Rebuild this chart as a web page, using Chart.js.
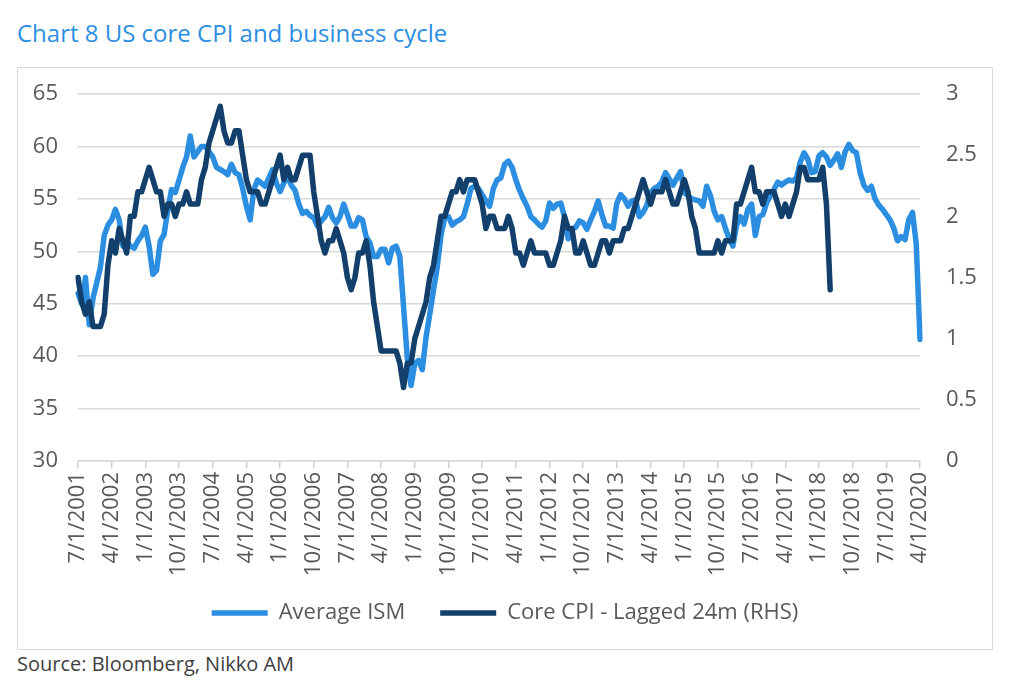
<!DOCTYPE html>
<html>
<head>
<meta charset="utf-8">
<title>Chart 8 US core CPI and business cycle</title>
<script src="https://cdn.jsdelivr.net/npm/chart.js@4.4.1/dist/chart.umd.min.js"></script>
<style>
  html, body { margin: 0; padding: 0; background: #fff; }
  body { width: 1024px; height: 693px; position: relative; overflow: hidden; font-family: 'Open Sans', sans-serif; }
  #title { position: absolute; left: 17px; top: 18px; font-size: 24px; line-height: 30px; color: #2b8ee0; white-space: nowrap; }
  #frame { position: absolute; left: 17px; top: 67px; width: 976px; height: 583px; border: 1px solid #d9d9d9; box-sizing: border-box; }
  #source { position: absolute; left: 17px; top: 652px; font-size: 20px; line-height: 24px; color: #404040; white-space: nowrap; }
</style>
</head>
<body>
<div id="title">Chart 8 US core CPI and business cycle</div>
<div id="frame"><canvas id="chart"></canvas></div>
<div id="source">Source: Bloomberg, Nikko AM</div>
<script>
// monthly axis, first point 7/1/2001, last 4/1/2020
const START_YEAR = 2001;
const START_MONTH = 7;
const MONTH_COUNT = 226;
const TICK_EVERY = 9;

// Average ISM (left axis), Jul 2001 .. Apr 2020
const ismValues = [
  46, 45, 47.5, 43, 45.5, 47,
  48.5, 51.5, 52.5, 53, 54, 53, 50.5, 51, 50.5, 50.3, 51, 51.5,
  52.3, 50.5, 47.8, 48.2, 51, 51.6, 54, 55.9, 55.6, 56.8, 58, 59,
  61, 59, 59.5, 60, 60, 59.5, 59, 58, 57.8, 57.6, 57.3, 58.3,
  57.5, 57.3, 56, 54.3, 53, 55.9, 56.8, 56.5, 56.2, 57, 57.8, 56.5,
  55.7, 56.5, 57.2, 56.3, 55.8, 54.5, 53.6, 53.8, 53.4, 53.2, 52.4, 52.9,
  53.3, 54.2, 53.2, 52.7, 53.3, 54.5, 53.5, 52.4, 52.4, 53.2, 53, 51.4,
  50.8, 49.5, 49.5, 50.2, 50.2, 48.9, 50.3, 50.5, 49.5, 44.7, 39.8, 37.2,
  39.3, 39.6, 38.7, 41.8, 44, 46.3, 48.5, 51.5, 53.2, 53.3, 52.5, 52.8,
  53, 53.3, 54.5, 56, 56.2, 56, 55.4, 54.8, 54.3, 56, 56.8, 57,
  58.3, 58.6, 58, 56.8, 55.8, 55, 54.3, 53.3, 53, 52.6, 52.3, 52.9,
  54.6, 54.1, 54.5, 54.6, 53.3, 51.2, 52.1, 52.3, 52.9, 52.7, 52.1, 53,
  53.8, 54.8, 53.5, 52.4, 52.4, 52.2, 54.6, 55.4, 55, 54.3, 54.8, 54.9,
  53.3, 53.7, 54.4, 55.6, 56, 56.2, 56.6, 57.5, 56.9, 56.3, 57, 57.6,
  55.6, 55.3, 55, 54.9, 54.8, 54.3, 56.2, 55.3, 53.8, 53, 53.3, 52.2,
  51.2, 50.5, 52.5, 53.3, 52.6, 54, 54.5, 51.5, 53.3, 53.5, 54.6, 55.3,
  55.9, 56.6, 56.3, 56.6, 56.8, 56.7, 57, 58.5, 59.4, 58.8, 57.5, 57.6,
  59.1, 59.4, 59, 58.2, 58.7, 59.3, 58, 59.5, 60.2, 59.6, 59.4, 57.5,
  56.3, 55.8, 56.2, 55, 54.4, 54, 53.5, 53, 52.2, 51, 51.4, 51.1,
  53, 53.7, 50.7, 41.6
];

// Core CPI y/y (right axis), plotted 24 months early: Jul 2001 .. Apr 2018
const cpiValues = [
  1.5, 1.3, 1.2, 1.3, 1.1, 1.1,
  1.1, 1.2, 1.6, 1.8, 1.7, 1.9, 1.8, 1.7, 2.0, 2.0, 2.2, 2.2,
  2.3, 2.4, 2.3, 2.2, 2.2, 2.0, 2.1, 2.1, 2.0, 2.1, 2.1, 2.2,
  2.1, 2.1, 2.1, 2.3, 2.4, 2.6, 2.7, 2.8, 2.9, 2.7, 2.6, 2.6,
  2.7, 2.7, 2.5, 2.3, 2.2, 2.2, 2.2, 2.1, 2.1, 2.2, 2.3, 2.4,
  2.5, 2.3, 2.4, 2.3, 2.3, 2.4, 2.5, 2.5, 2.5, 2.2, 2.0, 1.8,
  1.7, 1.8, 1.8, 1.9, 1.8, 1.7, 1.5, 1.4, 1.5, 1.7, 1.7, 1.8,
  1.6, 1.3, 1.1, 0.9, 0.9, 0.9, 0.9, 0.9, 0.8, 0.6, 0.8, 0.8,
  1.0, 1.1, 1.2, 1.3, 1.5, 1.6, 1.8, 2.0, 2.0, 2.1, 2.2, 2.2,
  2.3, 2.2, 2.3, 2.3, 2.3, 2.2, 2.1, 1.9, 2.0, 2.0, 1.9, 1.9,
  1.9, 2.0, 1.9, 1.7, 1.7, 1.6, 1.7, 1.8, 1.7, 1.7, 1.7, 1.7,
  1.6, 1.6, 1.7, 1.8, 2.0, 1.9, 1.9, 1.7, 1.7, 1.8, 1.7, 1.6,
  1.6, 1.7, 1.8, 1.8, 1.7, 1.8, 1.8, 1.8, 1.9, 1.9, 2.0, 2.1,
  2.2, 2.3, 2.2, 2.1, 2.2, 2.2, 2.2, 2.3, 2.2, 2.1, 2.1, 2.2,
  2.3, 2.2, 2.0, 1.9, 1.7, 1.7, 1.7, 1.7, 1.7, 1.8, 1.7, 1.8,
  1.8, 1.8, 2.1, 2.1, 2.2, 2.3, 2.4, 2.2, 2.2, 2.1, 2.2, 2.2,
  2.2, 2.1, 2.0, 2.1, 2.0, 2.1, 2.2, 2.4, 2.4, 2.3, 2.3, 2.3,
  2.3, 2.4, 2.1, 1.4
];

const months = [];
for (let i = 0; i < MONTH_COUNT; i++) {
  const m = (START_MONTH - 1 + i) % 12 + 1;
  const y = START_YEAR + Math.floor((START_MONTH - 1 + i) / 12);
  months.push(m + '/1/' + y);
}

const LIGHT_BLUE = '#2b8ee0';
const NAVY = '#123f6b';
const TEXT_GREY = '#595959';
const GRID_GREY = '#d9d9d9';

Chart.defaults.font.family = "'Open Sans', sans-serif";
Chart.defaults.color = TEXT_GREY;

// fixed axis widths; drop the extra top/bottom room chart.js adds for tick padding
function sizeYAxis(width) {
  return (scale) => {
    scale.width = width;
    scale.paddingTop = 0;
    scale.paddingBottom = 0;
  };
}

// the x labels are clipped to the axis box; let the long ones (10/1/....) run into the legend gap
const unclipXLabels = {
  id: 'unclipXLabels',
  afterLayout(chart) {
    chart.scales.x.bottom += 16;
  }
};

const ctx = document.getElementById('chart').getContext('2d');
new Chart(ctx, {
  type: 'line',
  data: {
    labels: months,
    datasets: [{
      label: 'Average ISM',
      data: ismValues,
      yAxisID: 'y',
      borderColor: LIGHT_BLUE,
      backgroundColor: LIGHT_BLUE,
      borderWidth: 5.5,
      borderJoinStyle: 'round',
      borderCapStyle: 'round',
      pointRadius: 0,
      tension: 0,
      order: 2
    }, {
      label: 'Core CPI - Lagged 24m (RHS)',
      data: cpiValues,
      yAxisID: 'y1',
      borderColor: NAVY,
      backgroundColor: NAVY,
      borderWidth: 5.5,
      borderJoinStyle: 'round',
      borderCapStyle: 'round',
      pointRadius: 0,
      tension: 0,
      order: 1
    }]
  },
  plugins: [unclipXLabels],
  options: {
    responsive: true,
    maintainAspectRatio: false,
    animation: false,
    layout: { padding: { top: 26, left: 0, right: 0, bottom: 15 } },
    plugins: {
      tooltip: { enabled: false },
      legend: {
        position: 'bottom',
        labels: {
          usePointStyle: true,
          pointStyle: 'line',
          pointStyleWidth: 56,
          padding: 35,
          color: TEXT_GREY,
          font: { size: 22 },
          sort: (a, b) => a.datasetIndex - b.datasetIndex
        }
      }
    },
    scales: {
      x: {
        grid: { display: true, drawOnChartArea: false, drawTicks: true, tickLength: 7, color: '#cfcfcf', lineWidth: 1.5 },
        border: { display: true, color: GRID_GREY, width: 1.5 },
        afterBuildTicks: (scale) => {
          scale.ticks = scale.ticks.filter(t => t.value % TICK_EVERY === 0);
        },
        afterFit: (scale) => { scale.height = 106; },
        ticks: {
          autoSkip: false,
          minRotation: 90,
          maxRotation: 90,
          padding: 4,
          color: TEXT_GREY,
          font: { size: 22 },
          callback: function (value) { return this.getLabelForValue(value); }
        }
      },
      y: {
        position: 'left',
        min: 30,
        max: 65,
        ticks: { stepSize: 5, padding: 20, color: TEXT_GREY, font: { size: 22 } },
        grid: { color: GRID_GREY, lineWidth: 1.5, drawTicks: false },
        border: { display: false },
        afterFit: sizeYAxis(60)
      },
      y1: {
        position: 'right',
        min: 0,
        max: 3,
        ticks: { stepSize: 0.5, padding: 26, color: TEXT_GREY, font: { size: 22 }, callback: v => String(v) },
        grid: { drawOnChartArea: false, drawTicks: false },
        border: { display: false },
        afterFit: sizeYAxis(72)
      }
    }
  }
});
</script>
</body>
</html>
